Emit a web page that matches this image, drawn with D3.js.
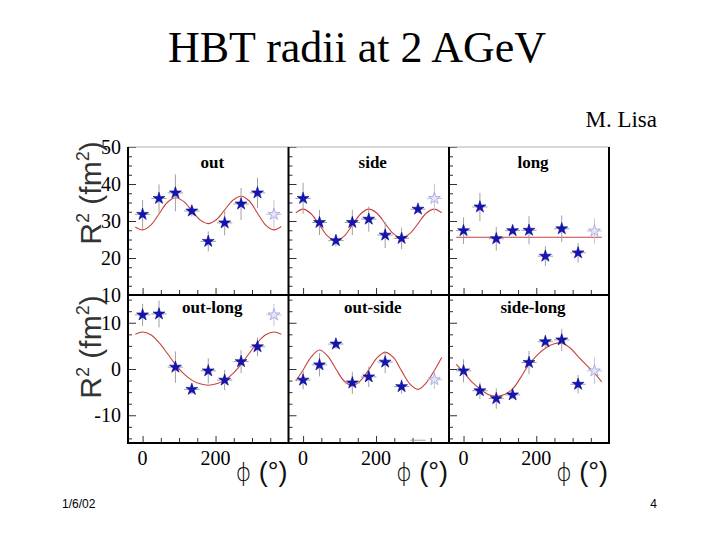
<!DOCTYPE html>
<html><head><meta charset="utf-8">
<script src="https://cdn.jsdelivr.net/npm/d3@7"></script>
<style>body{margin:0;background:#fff}svg{display:block}</style>
</head><body><svg id="c" width="720" height="540"></svg>
<script>
// ---------- data ----------
const phiPoints = [0, 45, 90, 135, 180, 225, 270, 315, 360];   // last point = reflected (hollow)
const phiHalfWidth = 21;

const outR2   = [31.8, 36.1, 37.6, 32.7, 24.5, 29.5, 34.6, 37.6, 31.8];
const outErr  = [3.9, 3.8, 5.0, 1.5, 2.7, 3.4, 4.3, 4.1, 3.9];
const sideR2  = [36.1, 29.6, 24.7, 29.6, 30.5, 26.2, 25.3, 33.2, 36.1];
const sideErr = [4.2, 3.4, 1.6, 3.4, 3.4, 3.5, 2.9, 1.0, 4.0];
const longR2  = [27.4, 33.8, 25.2, 27.4, 27.5, 20.5, 27.9, 21.4, 27.3];
const longErr = [3.6, 3.8, 3.2, 1.0, 3.8, 2.7, 3.6, 2.6, 3.4];
const outLongR2  = [11.7, 11.9, 0.4, -4.4, -0.4, -2.4, 1.6, 4.8, 11.7];
const outLongErr = [2.4, 2.9, 3.4, 1.0, 2.7, 2.2, 2.5, 2.0, 2.4];
const outSideR2  = [-2.4, 0.9, 5.4, -3.0, -1.7, 1.5, -3.8, null, -2.3];
const outSideErr = [2.0, 2.5, 1.0, 2.4, 2.2, 2.4, 1.5, null, 2.0];
const outSideStrayBar = [315, -15.4];   // lone horizontal error bar near the bottom
const sideLongR2  = [-0.4, -4.7, -6.4, -5.6, 1.4, 5.9, 6.3, -3.3, -0.4];
const sideLongErr = [2.5, 1.8, 2.2, 0.8, 2.5, 1.5, 2.4, 2.0, 2.9];

// fit curves
const fitPhi = [-20, 0, 22.5, 45, 67.5, 90, 112.5, 135, 157.5, 180, 202.5, 225, 247.5, 270, 292.5, 315, 337.5, 360, 380];
const outFit      = [28.4, 27.6, 28.9, 31.9, 35.0, 36.3, 35.3, 32.8, 30.3, 29.3, 30.4, 33.0, 35.6, 36.7, 35.4, 32.1, 28.9, 27.6, 28.5];
const sideFit     = [32.2, 33.2, 31.9, 28.9, 25.9, 24.6, 25.9, 28.9, 31.9, 33.2, 32.1, 29.3, 26.6, 25.5, 26.6, 29.3, 32.1, 33.2, 32.2];
const longFit     = [25.6, 25.6, 25.6, 25.6, 25.6, 25.6, 25.6, 25.6, 25.6, 25.6, 25.6, 25.6, 25.6, 25.6, 25.6, 25.6, 25.6, 25.6, 25.6];
const outLongFit  = [7.5, 8.0, 7.4, 5.7, 3.4, 1.0, -1.0, -2.4, -3.2, -3.5, -3.2, -2.4, -1.0, 1.0, 3.4, 5.7, 7.4, 8.0, 7.5];
const outSideFit  = [-2.6, -0.2, 2.6, 4.1, 2.8, 0.0, -2.6, -3.6, -2.5, -0.2, 2.4, 3.6, 2.5, -0.4, -3.2, -4.4, -3.0, -0.3, 2.5];
const sideLongFit = [1.0, -0.7, -2.8, -4.3, -5.5, -5.9, -5.5, -4.3, -1.8, 1.0, 3.0, 4.5, 5.4, 5.6, 4.6, 2.7, 0.9, -0.9, -2.8];

const panelTitles = ["out", "side", "long", "out-long", "out-side", "side-long"];
const xDomain = [-40, 400];
const yDomainTop = [10, 50];
const yDomainBottom = [-16, 16];
const yLabelsTop = [10, 20, 30, 40, 50];
const yLabelsBottom = [-10, 0, 10];
const xLabels = [0, 200];

const panels = [
  {title: panelTitles[0], row: 0, col: 0, v: outR2, e: outErr, fit: outFit},
  {title: panelTitles[1], row: 0, col: 1, v: sideR2, e: sideErr, fit: sideFit},
  {title: panelTitles[2], row: 0, col: 2, v: longR2, e: longErr, fit: longFit},
  {title: panelTitles[3], row: 1, col: 0, v: outLongR2, e: outLongErr, fit: outLongFit},
  {title: panelTitles[4], row: 1, col: 1, v: outSideR2, e: outSideErr, fit: outSideFit},
  {title: panelTitles[5], row: 1, col: 2, v: sideLongR2, e: sideLongErr, fit: sideLongFit}
];

// ---------- layout ----------
const colX = [128, 288.5, 449, 609];
const rowY = [147, 295, 443];
const SERIF = "'Liberation Serif','Times New Roman',serif";
const SANS = "'Liberation Sans',Arial,Helvetica,sans-serif";

const svg = d3.select("#c");
svg.append("rect").attr("width", 720).attr("height", 540).attr("fill", "#fff");

const xScales = [0, 1, 2].map(c => d3.scaleLinear().domain(xDomain).range([colX[c], colX[c + 1]]));
const yScales = [
  d3.scaleLinear().domain(yDomainTop).range([rowY[1], rowY[0]]),
  d3.scaleLinear().domain(yDomainBottom).range([rowY[2], rowY[1]])
];

// title etc.
svg.append("text").attr("x", 357).attr("y", 62).attr("text-anchor", "middle")
  .attr("font-family", SERIF).attr("font-size", 44).attr("fill", "#000").text("HBT radii at 2 AGeV");
svg.append("text").attr("x", 657).attr("y", 127).attr("text-anchor", "end")
  .attr("font-family", SERIF).attr("font-size", 23).attr("fill", "#000").text("M. Lisa");
svg.append("text").attr("x", 62).attr("y", 508)
  .attr("font-family", SANS).attr("font-size", 12).attr("fill", "#000").text("1/6/02");
svg.append("text").attr("x", 657).attr("y", 508).attr("text-anchor", "end")
  .attr("font-family", SANS).attr("font-size", 12).attr("fill", "#000").text("4");

// panels
const star = d3.symbol().type(d3.symbolStar).size(44);
const line = d3.line().curve(d3.curveCatmullRom.alpha(0.5));

panels.forEach(p => {
  const x = xScales[p.col], y = yScales[p.row];
  const g = svg.append("g");
  const yMin = y.domain()[0], yMax = y.domain()[1];

  // left inner ticks
  const minor = d3.range(Math.ceil(yMin / 2.5) * 2.5, yMax + 0.01, 2.5).filter(v => v % 10 !== 0);
  const major = d3.range(Math.ceil(yMin / 10) * 10, yMax + 0.01, 10);
  const ax0 = colX[p.col];
  g.append("g").attr("transform", `translate(${ax0},0)`)
    .call(d3.axisRight(y).tickValues(minor).tickSize(4).tickFormat(""))
    .call(a => a.select(".domain").remove()).selectAll("line").attr("stroke", "#333");
  g.append("g").attr("transform", `translate(${ax0},0)`)
    .call(d3.axisRight(y).tickValues(major).tickSize(8).tickFormat(""))
    .call(a => a.select(".domain").remove()).selectAll("line").attr("stroke", "#333");
  // bottom inner ticks
  const xt = d3.range(0, 351, 50);
  g.append("g").attr("transform", `translate(0,${rowY[p.row + 1]})`)
    .call(d3.axisTop(x).tickValues(xt.filter(v => v % 200 !== 0)).tickSize(5).tickFormat(""))
    .call(a => a.select(".domain").remove()).selectAll("line").attr("stroke", "#333");
  g.append("g").attr("transform", `translate(0,${rowY[p.row + 1]})`)
    .call(d3.axisTop(x).tickValues(xt.filter(v => v % 200 === 0)).tickSize(7).tickFormat(""))
    .call(a => a.select(".domain").remove()).selectAll("line").attr("stroke", "#333");

  // fit curve
  g.append("path").attr("d", line(fitPhi.map((f, i) => [x(f), y(p.fit[i])])))
    .attr("fill", "none").attr("stroke", "#c8403c").attr("stroke-width", 1.1);

  const pts = phiPoints.map((f, i) => ({f, v: p.v[i], e: p.e[i], hollow: i === phiPoints.length - 1}))
    .filter(d => d.v !== null);
  // error bars
  const eb = g.append("g");
  pts.forEach(d => {
    const col = d.hollow ? "#c4c4d8" : "#a0a0a0";
    eb.append("line").attr("x1", x(d.f - phiHalfWidth)).attr("x2", x(d.f + phiHalfWidth))
      .attr("y1", y(d.v)).attr("y2", y(d.v)).attr("stroke", col).attr("stroke-width", 1);
    eb.append("line").attr("x1", x(d.f)).attr("x2", x(d.f))
      .attr("y1", y(d.v - d.e)).attr("y2", y(d.v + d.e)).attr("stroke", col).attr("stroke-width", 1);
  });
  // markers
  g.selectAll(".pt").data(pts).join("path")
    .attr("transform", d => `translate(${x(d.f)},${y(d.v)})`)
    .attr("d", star)
    .attr("fill", d => d.hollow ? "#e4e4f8" : "#1414b4")
    .attr("stroke", d => d.hollow ? "#8888d4" : "#0a0a90")
    .attr("stroke-width", 0.6);

  // panel title
  g.append("text").attr("x", (colX[p.col] + colX[p.col + 1]) / 2 + 4)
    .attr("y", p.row === 0 ? 168 : 313).attr("text-anchor", "middle")
    .attr("font-family", SERIF).attr("font-weight", "bold").attr("font-size", 17).attr("fill", "#000")
    .text(p.title);
});

// stray horizontal bar in out-side panel
svg.append("line")
  .attr("x1", xScales[1](outSideStrayBar[0] - phiHalfWidth)).attr("x2", xScales[1](outSideStrayBar[0] + phiHalfWidth))
  .attr("y1", yScales[1](outSideStrayBar[1])).attr("y2", yScales[1](outSideStrayBar[1]))
  .attr("stroke", "#a0a0a0").attr("stroke-width", 1);

// frame
svg.append("line").attr("x1", colX[0]).attr("x2", colX[3]).attr("y1", rowY[0]).attr("y2", rowY[0])
  .attr("stroke", "#b0b0b0").attr("stroke-width", 1);
[rowY[1], rowY[2]].forEach(yy => svg.append("line").attr("x1", colX[0] - 1).attr("x2", colX[3] + 1)
  .attr("y1", yy).attr("y2", yy).attr("stroke", "#000").attr("stroke-width", 2));
colX.forEach(xx => svg.append("line").attr("x1", xx).attr("x2", xx).attr("y1", rowY[0]).attr("y2", rowY[2] + 1)
  .attr("stroke", "#000").attr("stroke-width", 2));

// y tick labels (left column only)
svg.selectAll(".ylt").data(yLabelsTop).join("text")
  .attr("x", 121).attr("y", d => yScales[0](d)).attr("dy", "0.35em").attr("text-anchor", "end")
  .attr("font-family", SERIF).attr("font-size", 20).attr("fill", "#000").text(d => d);
svg.selectAll(".ylb").data(yLabelsBottom).join("text")
  .attr("x", 121).attr("y", d => yScales[1](d)).attr("dy", "0.35em").attr("text-anchor", "end")
  .attr("font-family", SERIF).attr("font-size", 20).attr("fill", "#000").text(d => d);

// x tick labels + phi labels
[0, 1, 2].forEach(c => {
  svg.selectAll(".xl" + c).data(xLabels).join("text")
    .attr("x", d => xScales[c](d)).attr("y", 465).attr("text-anchor", "middle")
    .attr("font-family", SERIF).attr("font-size", 20).attr("fill", "#000").text(d => d);
  const t = svg.append("text").attr("x", colX[c + 1] - 1).attr("y", 481).attr("text-anchor", "end")
    .attr("font-family", SANS).attr("font-size", 27).attr("font-weight", 300).attr("fill", "#111");
  t.append("tspan").attr("font-family", "'DejaVu Sans'," + SANS).attr("font-size", 24).text("ϕ");
  t.append("tspan").text(" (°)");
});

// y axis titles
[[101, 193], [101, 347]].forEach(([tx, ty]) => {
  const t = svg.append("text").attr("transform", `translate(${tx},${ty}) rotate(-90)`)
    .attr("text-anchor", "middle").attr("font-family", SANS).attr("font-size", 30).attr("fill", "#333");
  t.append("tspan").text("R");
  t.append("tspan").attr("font-size", 18).attr("dy", -12).text("2");
  t.append("tspan").attr("dy", 12).text(" (fm");
  t.append("tspan").attr("font-size", 18).attr("dy", -12).text("2");
  t.append("tspan").attr("dy", 12).text(")");
});
</script>
</body></html>
